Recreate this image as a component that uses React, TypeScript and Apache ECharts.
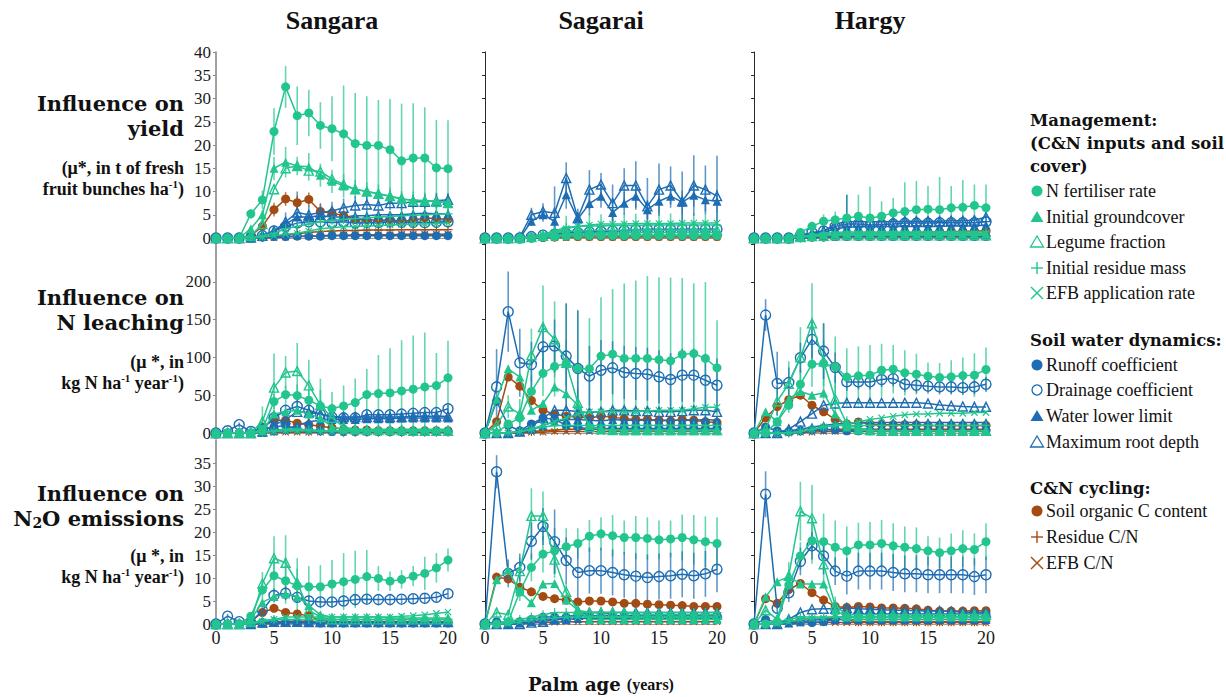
import React, { useEffect, useRef } from "react";
import * as echarts from "echarts";

// ---------- categories ----------
const years = [0, 1, 2, 3, 4, 5, 6, 7, 8, 9, 10, 11, 12, 13, 14, 15, 16, 17, 18, 19, 20];
const sites = ["Sangara", "Sagarai", "Hargy"];
const factorNames = [
  "N fertiliser rate", "Initial groundcover", "Legume fraction", "Initial residue mass", "EFB application rate",
  "Runoff coefficient", "Drainage coefficient", "Water lower limit", "Maximum root depth",
  "Soil organic C content", "Residue C/N", "EFB C/N",
];
const yieldTicks = [0, 40, 5];
const leachTicks = [0, 250, 50];
const n2oTicks = [0, 40, 5];

// ---------- series values (μ*), one row per factor, in factorNames order ----------
const sangaraYield = [
  [0, 0, 0, 5.2, 8.2, 22.9, 32.5, 26.3, 26.9, 24.2, 23.5, 22.4, 20.3, 19.9, 19.9, 19.0, 16.6, 17.2, 17.2, 15.1, 14.9],
  [0, 0, 0, 2, 5, 15, 16.3, 15.5, 15.3, 13.5, 12.2, 11.2, 10.5, 10, 9.5, 9, 8.3, 8.2, 8, 8, 7.6],
  [0, 0, 0, 0.5, 3, 10.5, 15, 15.5, 14.5, 14.3, 12.7, 11.5, 10.5, 10, 9.5, 9, 8.5, 8, 8, 7.8, 7.5],
  [0, 0, 0, 0, 0.5, 1, 2, 2.5, 3, 3.5, 3.8, 4, 4.2, 4.3, 4.5, 4.6, 4.8, 4.9, 5, 5.1, 5.2],
  [0, 0, 0, 0, 0.2, 0.5, 0.8, 1, 1.5, 2, 2.2, 2.4, 2.5, 2.6, 2.7, 2.8, 2.9, 3, 3, 3.1, 3.2],
  [0, 0, 0, 0, 0.2, 0.3, 0.3, 0.4, 0.4, 0.4, 0.5, 0.5, 0.5, 0.5, 0.5, 0.5, 0.5, 0.5, 0.5, 0.5, 0.5],
  [0, 0, 0, 0.2, 0.5, 1.5, 2.5, 3.2, 3.5, 3.5, 3.3, 3.5, 3.2, 3.3, 3.3, 3.5, 3.4, 3.4, 3.3, 3.4, 3.5],
  [0, 0, 0, 0.1, 0.3, 1.5, 3, 4.5, 4.5, 4.8, 4.5, 4.5, 4.8, 4.8, 5, 5, 5, 5.2, 5.3, 5.2, 5.2],
  [0, 0, 0, 0.1, 0.5, 1.5, 3.5, 5.5, 5, 5.5, 5.8, 6.5, 7, 7.2, 7, 7.5, 7.5, 7.8, 7.8, 8, 8.2],
  [0, 0, 0, 0.5, 2.5, 6.1, 8.4, 7.6, 8.3, 5.7, 5.4, 4.8, 4, 3.9, 3.8, 3.8, 3.6, 3.8, 4.3, 4.2, 4],
  [0, 0, 0, 0, 0.1, 0.3, 0.6, 0.9, 1.2, 1.4, 1.5, 1.6, 1.6, 1.7, 1.7, 1.7, 1.8, 1.8, 1.8, 1.8, 1.8],
  [0, 0, 0, 0, 0, 0.1, 0.2, 0.3, 0.4, 0.5, 0.6, 0.6, 0.7, 0.7, 0.7, 0.7, 0.8, 0.8, 0.8, 0.8, 0.8],
];
const sagaraiYield = [
  [0, 0, 0, 0, 0, 0.2, 0.3, 0.4, 0.5, 0.5, 0.5, 0.5, 0.5, 0.5, 0.5, 0.5, 0.5, 0.5, 0.5, 0.5, 0.5],
  [0, 0, 0, 0, 0.1, 0.3, 0.5, 0.8, 1, 1, 1.1, 1.1, 1.1, 1.2, 1.2, 1.2, 1.2, 1.2, 1.2, 1.2, 1.2],
  [0, 0, 0, 0, 0.2, 0.5, 1, 1.5, 1.5, 1.6, 1.6, 1.6, 1.7, 1.7, 1.7, 1.7, 1.7, 1.7, 1.7, 1.7, 1.7],
  [0, 0, 0, 0, 0.3, 0.8, 1.5, 2.3, 2.5, 2.6, 2.6, 2.7, 2.7, 2.7, 2.8, 2.8, 2.8, 2.8, 2.8, 2.8, 2.8],
  [0, 0, 0, 0, 0.2, 0.6, 1.2, 2, 2.5, 2.8, 3, 3, 3, 3.1, 3.1, 3.1, 3.1, 3.2, 3.2, 3.2, 3.2],
  [0, 0, 0, 0, 0.1, 0.2, 0.3, 0.5, 0.6, 0.6, 0.6, 0.6, 0.6, 0.6, 0.6, 0.6, 0.6, 0.6, 0.6, 0.6, 0.6],
  [0, 0, 0, 0, 0.3, 0.6, 0.8, 1, 1.2, 1.3, 1.4, 1.5, 1.6, 1.8, 1.9, 1.9, 1.9, 1.9, 1.9, 1.9, 1.9],
  [0, 0, 0, 0, 3.6, 5, 3.6, 9.3, 4.1, 7.4, 9, 5.5, 7.5, 9, 6.1, 7.9, 9, 7.7, 9.2, 8.2, 7.9],
  [0, 0, 0, 0.2, 5, 5.7, 5.4, 12.9, 4.3, 10.4, 11.5, 7.5, 11.3, 11.3, 6.8, 10.4, 11.3, 7.9, 11.3, 10.4, 9],
  [0, 0, 0, 0, 0, 0.1, 0.2, 0.3, 0.3, 0.3, 0.3, 0.3, 0.3, 0.3, 0.3, 0.3, 0.3, 0.3, 0.3, 0.3, 0.3],
  [0, 0, 0, 0, 0, 0.1, 0.2, 0.3, 0.4, 0.5, 0.5, 0.5, 0.5, 0.5, 0.5, 0.5, 0.5, 0.5, 0.5, 0.5, 0.5],
  [0, 0, 0, 0, 0, 0, 0.1, 0.1, 0.2, 0.2, 0.2, 0.2, 0.2, 0.2, 0.2, 0.2, 0.2, 0.2, 0.2, 0.2, 0.2],
];
const hargyYield = [
  [0, 0, 0, 0, 1.2, 2.5, 3.6, 3.9, 4.3, 4.7, 4.3, 4.7, 5.4, 5.7, 6.1, 6.2, 6.1, 6.5, 6.6, 7, 6.5],
  [0, 0, 0, 0, 0.3, 0.5, 0.7, 0.8, 0.8, 0.8, 0.8, 0.8, 0.8, 0.8, 0.8, 0.8, 0.8, 0.8, 0.8, 0.8, 0.8],
  [0, 0, 0, 0, 0.2, 0.4, 0.5, 0.6, 0.6, 0.6, 0.6, 0.6, 0.6, 0.6, 0.6, 0.6, 0.6, 0.6, 0.6, 0.6, 0.6],
  [0, 0, 0, 0, 0.3, 0.6, 1, 1.2, 1.3, 1.3, 1.3, 1.3, 1.3, 1.3, 1.3, 1.3, 1.3, 1.3, 1.3, 1.3, 1.3],
  [0, 0, 0, 0, 0.2, 0.4, 0.6, 0.8, 0.9, 1, 1, 1, 1, 1, 1, 1, 1, 1, 1, 1, 1],
  [0, 0, 0, 0, 0.1, 0.2, 0.2, 0.3, 0.3, 0.3, 0.3, 0.3, 0.3, 0.3, 0.3, 0.3, 0.3, 0.3, 0.3, 0.3, 0.3],
  [0, 0, 0, 0, 0.5, 1.2, 1.5, 2.5, 3, 3, 2.8, 2.9, 3, 3.2, 3.2, 3.2, 3.3, 3.3, 3.3, 3.3, 3.5],
  [0, 0, 0, 0, 0.3, 0.8, 1.2, 2, 2.3, 2.4, 2.4, 2.4, 2.5, 2.5, 2.5, 2.5, 2.5, 2.6, 2.6, 2.6, 2.8],
  [0, 0, 0, 0, 0.4, 1, 1.5, 3, 3.5, 3.5, 3.5, 3.5, 3.5, 3.6, 3.6, 3.6, 3.6, 3.7, 3.7, 3.8, 4.5],
  [0, 0, 0, 0, 0.1, 0.3, 0.5, 0.8, 0.9, 1, 1, 1, 1, 1.1, 1.2, 1.3, 1.3, 1.4, 1.4, 1.5, 1.5],
  [0, 0, 0, 0, 0, 0.1, 0.2, 0.3, 0.4, 0.5, 0.5, 0.5, 0.5, 0.5, 0.5, 0.5, 0.5, 0.5, 0.5, 0.5, 0.5],
  [0, 0, 0, 0, 0, 0, 0.1, 0.1, 0.2, 0.2, 0.2, 0.2, 0.2, 0.2, 0.2, 0.2, 0.2, 0.2, 0.2, 0.2, 0.2],
];
const sangaraLeach = [
  [0, 0, 0, 0, 5, 41.6, 50.8, 49.5, 43.3, 35.8, 32.3, 35.8, 40.2, 50.8, 52.2, 53, 55.7, 57.9, 61, 62.8, 73],
  [0, 0, 0, 0, 3, 25, 28, 30, 25, 20, 8, 5, 5, 5, 5, 5, 5, 5, 5, 5, 5],
  [0, 0, 0, 0, 15, 60, 80, 82, 63, 37, 20, 8, 5, 4, 4, 4, 4, 3, 3, 3, 3],
  [0, 0, 0, 0, 1, 3, 5, 5, 4, 3, 3, 3, 3, 3, 3, 3, 3, 3, 3, 3, 3],
  [0, 0, 0, 0, 1, 2, 3, 3, 3, 2, 2, 2, 2, 2, 2, 2, 2, 2, 2, 2, 2],
  [0, 0, 0, 0, 5, 8, 10, 5, 4, 3, 2, 2, 2, 2, 2, 2, 2, 2, 2, 2, 2],
  [0, 3, 11, 2, 5, 20, 30, 35, 30, 25, 21, 20, 20, 24, 24, 24, 25, 26, 27, 27, 32],
  [0, 0, 0, 0, 1, 3, 5, 10, 15, 17, 18, 18, 18, 19, 19, 19, 20, 20, 20, 20, 20],
  [0, 0, 0, 0, 2, 10, 18, 28, 27, 25, 22, 21, 21, 21, 21, 21, 21, 22, 22, 22, 22],
  [0, 0, 0, 0, 8, 17, 17, 13, 11, 9, 7, 5, 4, 4, 3, 3, 3, 3, 3, 3, 3],
  [0, 0, 0, 0, 1, 2, 3, 3, 2, 2, 2, 1, 1, 1, 1, 1, 1, 1, 1, 1, 1],
  [0, 0, 0, 0, 0, 1, 1, 1, 1, 1, 1, 1, 1, 1, 1, 1, 1, 1, 1, 1, 1],
];
const sagaraiLeach = [
  [0, 0, 12, 20, 55, 79, 88, 92, 85, 85, 101.7, 104.3, 98.6, 98.6, 98.6, 97, 95.5, 104, 105, 98.6, 86.2],
  [0, 45, 85, 74, 30, 39, 61, 52, 37, 10, 5, 4, 3, 3, 3, 3, 3, 3, 3, 3, 3],
  [0, 10, 35, 25, 103, 140, 124, 93, 40, 8, 5, 4, 4, 4, 4, 4, 4, 4, 4, 4, 4],
  [0, 0, 0, 2, 5, 8, 10, 10, 10, 10, 10, 10, 10, 10, 10, 10, 10, 10, 10, 10, 10],
  [0, 0, 0, 2, 5, 10, 15, 20, 25, 28, 28, 28, 28, 28, 29, 30, 30, 30, 32, 34, 34],
  [0, 42, 10, 3, 12, 20, 18, 10, 8, 5, 6, 6, 6, 6, 6, 6, 6, 6, 6, 6, 6],
  [0, 61, 160.5, 92.8, 90.6, 114, 115, 101.7, 85.3, 75.2, 83, 86.2, 80, 78.7, 77.8, 74.3, 70.7, 76.5, 76.5, 69.8, 63.2],
  [0, 0, 0, 2, 5, 10, 15, 18, 18, 17, 16, 18, 17, 17, 17, 17, 17, 17, 17, 18, 17],
  [0, 0, 0, 2, 8, 20, 30, 30, 28, 27, 28, 30, 30, 29, 29, 28, 28, 29, 30, 30, 28],
  [0, 15, 74, 62, 43, 30, 25, 22, 21, 20, 22, 21, 19, 18, 18, 17, 16, 18, 17, 15, 14],
  [0, 0, 0, 1, 2, 3, 4, 5, 5, 5, 5, 5, 5, 5, 5, 5, 5, 5, 5, 5, 5],
  [0, 0, 0, 0, 1, 1, 2, 2, 2, 2, 2, 2, 2, 2, 2, 2, 2, 2, 2, 2, 2],
];
const hargyLeach = [
  [0, 0, 15, 36.7, 64.5, 91, 92, 87.5, 74, 75.6, 76.5, 83, 84.4, 79.6, 77.8, 75.2, 73.4, 74.3, 76, 76.5, 84],
  [0, 28, 15, 45, 55, 50, 53, 25, 8, 4, 3, 3, 3, 3, 3, 3, 3, 3, 3, 3, 3],
  [0, 5, 42, 65, 100, 145, 95, 45, 12, 6, 4, 3, 3, 3, 3, 3, 3, 3, 3, 3, 3],
  [0, 0, 0, 0, 2, 5, 8, 10, 10, 10, 10, 10, 10, 10, 10, 10, 10, 10, 10, 10, 10],
  [0, 0, 0, 0, 2, 5, 8, 10, 12, 15, 18, 20, 22, 24, 25, 25, 26, 26, 26, 27, 27],
  [0, 8, 3, 2, 3, 4, 5, 4, 3, 3, 3, 3, 3, 3, 3, 3, 3, 3, 3, 3, 3],
  [0, 156, 65.4, 66.8, 99.5, 123.8, 108.3, 86.6, 67.6, 67.6, 67.6, 70.7, 72, 64.5, 63.2, 62, 61, 61, 60, 61, 64.5],
  [0, 0, 1, 3, 5, 8, 10, 12, 13, 14, 14, 14, 14, 14, 14, 14, 14, 14, 14, 14, 14],
  [0, 0, 0, 5, 15, 25.6, 36.7, 39, 40, 40, 40, 40, 40, 40, 40, 39, 37, 36, 35, 34.5, 34.5],
  [0, 20, 35, 44, 50, 36.7, 28, 18, 12, 14.6, 12, 11, 11, 11, 11, 10, 10, 10, 10, 10, 10],
  [0, 0, 0, 1, 2, 3, 4, 5, 5, 5, 5, 5, 5, 5, 5, 5, 5, 5, 5, 5, 5],
  [0, 0, 0, 0, 1, 1, 2, 2, 2, 2, 2, 2, 2, 2, 2, 2, 2, 2, 2, 2, 2],
];
const sangaraN2O = [
  [0, 0, 0, 1.7, 7.4, 10.5, 9.4, 8.3, 8.1, 8.1, 8.7, 9.2, 9.7, 10.3, 9.9, 9.3, 9.7, 10.4, 11, 12.2, 13.9],
  [0, 0, 0, 1, 4.7, 6, 6.5, 6, 4, 2, 1.5, 1.5, 1.5, 1.5, 1.5, 1.3, 1.3, 1.3, 1.3, 1.3, 1.3],
  [0, 0, 0, 0.5, 8.8, 14.3, 13.3, 9, 3, 1.5, 1, 1, 1, 1, 1, 1, 1, 1, 1, 1, 1],
  [0, 0, 0, 0.2, 0.8, 1, 1, 1, 1, 1, 1, 1, 1, 1, 1, 1, 1, 1, 1, 1, 1],
  [0, 0, 0, 0, 0.5, 1, 1.5, 1.5, 1.5, 1.5, 1.5, 1.5, 1.5, 1.5, 1.5, 1.5, 1.7, 1.8, 2, 2.3, 2.6],
  [0, 0, 0, 0, 0.3, 0.3, 0.3, 0.3, 0.3, 0.2, 0.2, 0.2, 0.2, 0.2, 0.2, 0.2, 0.2, 0.2, 0.2, 0.2, 0.2],
  [0, 1.7, 0.5, 0.3, 3, 6.2, 6.7, 5.8, 5, 4.8, 4.8, 5, 5.3, 5.4, 5.3, 5.3, 5.4, 5.5, 5.6, 5.8, 6.6],
  [0, 0, 0, 0, 0.2, 0.3, 0.3, 0.3, 0.3, 0.3, 0.3, 0.3, 0.3, 0.3, 0.3, 0.3, 0.3, 0.3, 0.3, 0.3, 0.3],
  [0, 0, 0, 0, 0.3, 0.5, 0.5, 0.5, 0.4, 0.4, 0.4, 0.4, 0.4, 0.4, 0.4, 0.4, 0.4, 0.4, 0.4, 0.4, 0.4],
  [0, 0, 0, 0.5, 2.5, 3.4, 2.5, 2.2, 1.8, 0.8, 0.5, 0.5, 0.5, 0.5, 0.5, 0.5, 0.5, 0.5, 0.5, 0.5, 0.5],
  [0, 0, 0, 0, 0.2, 0.5, 0.6, 0.6, 0.6, 0.5, 0.4, 0.4, 0.4, 0.4, 0.4, 0.4, 0.4, 0.4, 0.4, 0.4, 0.4],
  [0, 0, 0, 0, 0, 0.1, 0.2, 0.2, 0.2, 0.2, 0.2, 0.2, 0.2, 0.2, 0.2, 0.2, 0.2, 0.2, 0.2, 0.2, 0.2],
];
const sagaraiN2O = [
  [0, 0, 0.5, 7, 12.3, 15.2, 15.9, 16.8, 17.5, 19.1, 19.6, 19.2, 18.8, 18.8, 18.6, 18.3, 18.5, 18.8, 18.3, 17.9, 17.5],
  [0, 9.6, 11.7, 7, 4.6, 8.7, 8.8, 5.2, 3, 1, 1, 1, 1, 1, 1, 1, 1, 1, 1, 1, 1],
  [0, 2.5, 2, 11.5, 23.5, 23.5, 14, 7, 3, 2.5, 2.5, 2.5, 2.5, 2, 2, 2, 2, 2, 2, 2, 2],
  [0, 0, 0.5, 1, 1.5, 2, 2.5, 2.5, 2.5, 2.5, 2.5, 2.5, 2.5, 2.5, 2.5, 2.5, 2.5, 2.5, 2.5, 2.5, 2.5],
  [0, 0, 0, 0.5, 1, 1.2, 1.3, 1.5, 1.5, 1.5, 1.5, 1.5, 1.5, 1.5, 1.5, 1.5, 1.5, 1.5, 1.5, 1.5, 1.5],
  [0, 0.5, 0.3, 0.5, 1, 1.5, 1.5, 1.5, 1.8, 1.8, 1.8, 1.8, 1.8, 1.8, 1.8, 1.8, 1.8, 1.8, 1.8, 1.8, 1.8],
  [0, 33.1, 11, 12.3, 18, 21.2, 17.9, 13.8, 11.2, 11.6, 11.6, 11.2, 10.7, 10.4, 10.1, 10.3, 10.5, 10.8, 10.5, 10.9, 11.9],
  [0, 0, 0, 0.2, 0.5, 0.8, 1, 1, 1.2, 1.2, 1.2, 1.2, 1.2, 1.2, 1.2, 1.2, 1.2, 1.2, 1.2, 1.2, 1.2],
  [0, 0, 0, 0, 0.3, 0.5, 1, 1.5, 2, 2.5, 2.5, 2.5, 2.5, 2.5, 2.5, 2.5, 2.5, 2.5, 2.5, 2.5, 2.5],
  [0, 10.2, 9.8, 8, 7, 6, 5.5, 5.2, 4.8, 5, 5, 4.8, 4.5, 4.5, 4.3, 4.2, 4.1, 4, 3.8, 3.8, 3.8],
  [0, 0, 0, 0.5, 1, 1.2, 1.2, 1.3, 2, 2.5, 2.5, 2, 1.5, 1.2, 1.2, 1.2, 1.2, 1.2, 1.2, 1.2, 1.2],
  [0, 0, 0, 0, 0.2, 0.3, 0.4, 0.5, 0.5, 0.5, 0.5, 0.5, 0.5, 0.5, 0.5, 0.5, 0.5, 0.5, 0.5, 0.5, 0.5],
];
const hargyN2O = [
  [0, 0, 0.5, 8.5, 14.8, 18.1, 17.9, 16.7, 15.9, 17.2, 17.2, 17.5, 17, 16.7, 16.4, 15.9, 15.5, 15.9, 16.4, 16.2, 17.9],
  [0, 5.9, 9.2, 10.3, 8.7, 8.7, 8.7, 3, 1.5, 1.5, 1.5, 1.5, 1.5, 1.5, 1.5, 1.5, 1.5, 1.5, 1.5, 1.5, 1.5],
  [0, 3, 1, 10.5, 24.5, 23, 13, 4, 2, 2, 2, 2, 2, 2, 2, 2, 2, 2, 2, 2, 2],
  [0, 0, 0.5, 1, 1.5, 1.5, 1.5, 1.5, 1.5, 1.5, 1.5, 1.5, 1.5, 1.5, 1.5, 1.5, 1.5, 1.5, 1.5, 1.5, 1.5],
  [0, 0, 0, 0.5, 1, 1.2, 1.3, 1.5, 1.5, 1.5, 1.5, 1.5, 1.5, 1.5, 1.5, 1.5, 1.5, 1.5, 1.5, 1.5, 1.5],
  [0, 1, 0.3, 0.3, 0.5, 0.3, 0.5, 1, 2, 2.2, 2.2, 2.2, 2.2, 2.2, 2.2, 2.2, 2.2, 2.2, 2.2, 2.2, 2.2],
  [0, 28.2, 3.4, 6.8, 13.6, 17, 14.8, 11.5, 10.4, 11.5, 11.5, 11.5, 11.2, 10.9, 10.9, 10.7, 10.7, 10.7, 10.7, 10.3, 10.7],
  [0, 0, 0, 0.2, 0.5, 0.8, 1, 1, 1, 1, 1, 1, 1, 1, 1, 1, 1, 1, 1, 1, 1],
  [0, 0, 0, 1, 2.5, 3.2, 3.3, 3.3, 3.5, 3.3, 3.2, 3.1, 3, 3, 2.9, 2.8, 2.8, 2.7, 2.6, 2.5, 2.5],
  [0, 5.5, 4.5, 7.5, 8.8, 6.8, 5.2, 3.8, 3.6, 3.8, 3.7, 3.5, 3.5, 3.4, 3.3, 3, 2.8, 2.8, 2.8, 2.9, 2.9],
  [0, 0, 0.2, 0.5, 1, 1.2, 1.2, 1.2, 0.8, 0.5, 0.5, 0.5, 0.5, 0.5, 0.5, 0.5, 0.5, 0.5, 0.5, 0.5, 0.5],
  [0, 0, 0, 0, 0.2, 0.3, 0.3, 0.3, 0.3, 0.3, 0.3, 0.3, 0.3, 0.3, 0.3, 0.3, 0.3, 0.3, 0.3, 0.3, 0.3],
];

// ---------- error bar half-widths: [factor index, values] ----------
const sangaraYieldErr: [number, number[]][] = [
  [0, [0, 0, 0, 1, 2, 5, 4.5, 6.3, 5, 5, 7, 10.4, 10.9, 10.6, 9.8, 10.9, 12.3, 11.8, 10.9, 10.3, 10.4]],
  [1, [0, 0, 0, 0.5, 1, 2.5, 3.3, 2, 3, 2.5, 2.5, 2.5, 2, 2, 2, 1.8, 1.8, 1.8, 1.8, 1.8, 1.8]],
  [8, [0, 0, 0, 0, 0.5, 1, 2, 4.5, 2, 2, 2, 2, 2, 2, 1.5, 1.5, 1.5, 1.5, 1.5, 1.5, 1.5]],
  [9, [0, 0, 0, 0.3, 1, 1.5, 1.5, 1.5, 1.5, 1.5, 1, 1, 1, 1, 1, 1, 1, 1, 1, 1, 1]],
];
const sagaraiYieldErr: [number, number[]][] = [
  [3, [0, 0, 0, 0, 0.5, 1, 1.5, 2.5, 2.5, 2.5, 2.5, 2.5, 2.5, 2.5, 2.5, 2.5, 2.5, 2.5, 2.5, 2.5, 2.5]],
  [7, [0, 0, 0, 0, 1, 1.5, 2, 3, 1.5, 2.5, 2.5, 2, 2.5, 2.5, 2, 2.5, 2.5, 2.5, 2.5, 2.5, 2.5]],
  [8, [0, 0, 0, 0, 1.5, 1.8, 5.7, 3.4, 2, 4.2, 2.5, 4, 3.7, 5.2, 6.1, 5.6, 4.1, 6.4, 6.5, 5.2, 8.7]],
];
const hargyYieldErr: [number, number[]][] = [
  [0, [0, 0, 0, 0, 0.5, 1, 1.5, 1.8, 5, 4.6, 6.8, 3.2, 3.2, 6.3, 6.2, 5, 7, 4.7, 5.9, 4.5, 5]],
  [6, [0, 0, 0, 0, 0.3, 0.5, 1, 1.5, 6.3, 1.5, 1.5, 1.5, 1.5, 1.5, 1.5, 1.5, 1.5, 1.5, 1.5, 1.5, 1.5]],
];
const sangaraLeachErr: [number, number[]][] = [
  [0, [0, 0, 0, 0, 2, 10, 12, 15, 15, 36, 22, 27, 32, 34, 51, 59, 67, 71, 72, 43, 49]],
  [2, [0, 0, 0, 0, 20, 45, 22, 37, 34, 20, 10, 5, 2, 2, 2, 2, 2, 2, 2, 2, 2]],
  [6, [0, 1, 3, 1, 2, 5, 8, 10, 8, 6, 6, 5, 5, 5, 5, 5, 5, 5, 5, 5, 5]],
];
const sagaraiLeachErr: [number, number[]][] = [
  [0, [0, 0, 5, 10, 20, 30, 40, 79, 77, 67, 78, 86, 99, 103, 109, 109, 110, 101, 93, 101, 63]],
  [2, [0, 5, 15, 20, 35, 55, 50, 30, 20, 5, 3, 2, 2, 2, 2, 2, 2, 2, 2, 2, 2]],
  [6, [0, 50, 53, 45, 30, 30, 35, 70, 77, 40, 40, 35, 35, 35, 35, 35, 35, 35, 35, 35, 35]],
];
const hargyLeachErr: [number, number[]][] = [
  [0, [0, 0, 5, 10, 20, 30, 30, 40, 38, 39, 40, 35, 32, 30, 27, 18, 19, 22, 24, 29, 29]],
  [2, [0, 5, 20, 30, 40, 53, 50, 30, 10, 3, 2, 2, 2, 2, 2, 2, 2, 2, 2, 2, 2]],
  [6, [0, 21, 42, 20, 20, 25, 37, 20, 12, 10, 10, 10, 10, 10, 10, 10, 10, 10, 10, 10, 10]],
];
const sangaraN2OErr: [number, number[]][] = [
  [0, [0, 0, 0, 0.5, 2, 4, 5, 6, 4.5, 4.7, 5.2, 6.2, 6.2, 5.8, 2.7, 2.1, 2, 2.2, 3.6, 3.2, 2.5]],
  [2, [0, 0, 0, 0.3, 2.5, 4.8, 6, 3, 1.5, 0.5, 0.3, 0.3, 0.3, 0.3, 0.3, 0.3, 0.3, 0.3, 0.3, 0.3, 0.3]],
  [6, [0, 0.5, 0.3, 0.2, 1, 1.5, 1.5, 1.2, 1, 1, 1, 1, 1, 1, 1, 1, 1, 1, 1, 1, 1]],
];
const sagaraiN2OErr: [number, number[]][] = [
  [0, [0, 0, 0.5, 2, 3, 4, 5, 4, 3.3, 3.5, 3.6, 4.5, 3.7, 4.7, 4.6, 4.2, 4, 5, 5.4, 5.5, 5.7]],
  [2, [0, 1, 1, 3, 6, 5.3, 4, 2, 1, 0.5, 0.5, 0.5, 0.5, 0.5, 0.5, 0.5, 0.5, 0.5, 0.5, 0.5, 0.5]],
  [6, [0, 3.6, 3, 3, 4, 4, 7, 5, 6, 5, 5, 5, 5, 5, 5, 5, 5, 5, 5, 5, 5]],
];
const hargyN2OErr: [number, number[]][] = [
  [0, [0, 0, 0.5, 2, 3, 5, 6.1, 5.8, 5.3, 4.8, 5, 5.1, 4.9, 4.5, 4.6, 3.2, 3.3, 3.8, 4, 3.5, 4]],
  [2, [0, 1, 0.5, 3, 6.4, 7.2, 4, 2, 1, 0.5, 0.5, 0.5, 0.5, 0.5, 0.5, 0.5, 0.5, 0.5, 0.5, 0.5, 0.5]],
  [6, [0, 5, 1, 2, 3, 3, 4, 3, 4, 4, 4, 4, 4, 4, 4, 4, 4, 4, 4, 4, 4]],
];

// ---------- styles ----------
const GREEN = "#22C58E";
const BLUE = "#1E6DB3";
const BROWN = "#A34B12";
const PLUS = "path://M4.35,0H5.65V4.35H10V5.65H5.65V10H4.35V5.65H0V4.35H4.35Z";

type Def = { color: string; shape: "circle" | "triangle" | "plus" | "cross"; hollow?: boolean };
const defs: Def[] = [
  { color: GREEN, shape: "circle" },
  { color: GREEN, shape: "triangle" },
  { color: GREEN, shape: "triangle", hollow: true },
  { color: GREEN, shape: "plus" },
  { color: GREEN, shape: "cross" },
  { color: BLUE, shape: "circle" },
  { color: BLUE, shape: "circle", hollow: true },
  { color: BLUE, shape: "triangle" },
  { color: BLUE, shape: "triangle", hollow: true },
  { color: BROWN, shape: "circle" },
  { color: BROWN, shape: "plus" },
  { color: BROWN, shape: "cross" },
];

const panels = [
  { data: sangaraYield, err: sangaraYieldErr },
  { data: sagaraiYield, err: sagaraiYieldErr },
  { data: hargyYield, err: hargyYieldErr },
  { data: sangaraLeach, err: sangaraLeachErr },
  { data: sagaraiLeach, err: sagaraiLeachErr },
  { data: hargyLeach, err: hargyLeachErr },
  { data: sangaraN2O, err: sangaraN2OErr },
  { data: sagaraiN2O, err: sagaraiN2OErr },
  { data: hargyN2O, err: hargyN2OErr },
];

const colLeft = [216, 485, 754];
const colW = 232;
const rowBox = [
  { top: 52, height: 186, ticks: yieldTicks, showMax: true },
  { top: 244, height: 189, ticks: leachTicks, showMax: false },
  { top: 440, height: 184, ticks: n2oTicks, showMax: false },
];

const SERIF = "Liberation Serif";
const WIDE = "DejaVu Serif";

function buildOption() {
  const grid: any[] = [];
  const xAxis: any[] = [];
  const yAxis: any[] = [];
  const series: any[] = [];

  panels.forEach((p, pi) => {
    const r = Math.floor(pi / 3);
    const c = pi % 3;
    const rb = rowBox[r];
    grid.push({ left: colLeft[c], top: rb.top, width: colW, height: rb.height, containLabel: false });
    xAxis.push({
      type: "value", gridIndex: pi, min: 0, max: 20, interval: 5,
      axisLine: { show: true, lineStyle: { color: "#9a9a9a", width: 1 } },
      axisTick: { show: false },
      splitLine: { show: false },
      axisLabel: { show: r === 2, fontFamily: SERIF, fontSize: 18, color: "#1a1a1a", margin: 5 },
    });
    yAxis.push({
      type: "value", gridIndex: pi, min: rb.ticks[0], max: rb.ticks[1], interval: rb.ticks[2],
      axisLine: { show: true, lineStyle: { color: c === 0 ? "#8a8a8a" : "#2a2a2a", width: c === 0 ? 1.6 : 1 } },
      axisTick: { show: true, length: 3, lineStyle: { color: c === 0 ? "#8a8a8a" : "#2a2a2a" } },
      splitLine: { show: false },
      axisLabel: {
        show: c === 0, showMaxLabel: rb.showMax, fontFamily: SERIF, fontSize: 17, color: "#1a1a1a", margin: 5,
      },
    });

    p.err.forEach(([si, e]) => {
      const col = defs[si].color;
      series.push({
        type: "custom", xAxisIndex: pi, yAxisIndex: pi, z: 1, silent: true, clip: false,
        encode: { x: 0, y: [1, 2] },
        data: years.map((x, i) => [x, Math.max(0, p.data[si][i] - e[i]), p.data[si][i] + e[i]]),
        renderItem: (params: any, api: any) => {
          const x = api.value(0);
          const a = api.coord([x, api.value(1)]);
          const b = api.coord([x, api.value(2)]);
          return {
            type: "line",
            shape: { x1: a[0], y1: a[1], x2: b[0], y2: b[1] },
            style: { stroke: col, lineWidth: 1.6, opacity: 0.7 },
          };
        },
      });
    });

    for (let si = defs.length - 1; si >= 0; si--) {
      const d = defs[si];
      const symbol = d.shape === "circle" ? "circle" : d.shape === "triangle" ? "triangle" : PLUS;
      series.push({
        type: "line", name: factorNames[si], xAxisIndex: pi, yAxisIndex: pi, z: 2 + (11 - si) * 0.01,
        silent: true, clip: false,
        data: years.map((x, i) => [x, p.data[si][i]]),
        symbol,
        symbolSize: d.shape === "circle" ? (d.hollow ? 10 : 9) : 9,
        symbolRotate: d.shape === "cross" ? 45 : 0,
        showAllSymbol: true,
        lineStyle: { color: d.color, width: 1.5 },
        itemStyle: d.hollow
          ? { color: "rgba(255,255,255,0)", borderColor: d.color, borderWidth: 1.4 }
          : { color: d.color, borderWidth: 0 },
      });
    }
  });

  // ---------- text & legend graphics ----------
  const g: any[] = [];
  const txt = (x: number, y: number, text: string, font: string, align = "left", rich?: any) => {
    g.push({
      type: "text", x, y, silent: true,
      style: { text, font, fill: "#111", align, verticalAlign: "middle", rich },
    });
  };
  const titleFont = `bold 26px "${SERIF}"`;
  sites.forEach((s, i) => txt(colLeft[i] + colW / 2, 20, s, titleFont, "center"));

  const bigFont = `bold 21px "${WIDE}"`;
  const subRich = {
    t: { fontFamily: SERIF, fontWeight: "bold", fontSize: 18, fill: "#111", lineHeight: 22 },
    s: { fontFamily: SERIF, fontWeight: "bold", fontSize: 11, fill: "#111", lineHeight: 12, verticalAlign: "top" },
    b: { fontFamily: WIDE, fontWeight: "bold", fontSize: 21, fill: "#111", lineHeight: 24 },
    bs: { fontFamily: WIDE, fontWeight: "bold", fontSize: 14, fill: "#111", lineHeight: 14, verticalAlign: "bottom" },
  };
  const RX = 184;
  txt(RX, 103, "Influence on", bigFont, "right");
  txt(RX, 128, "yield", bigFont, "right");
  txt(RX, 168, "{t|(μ*, in t of fresh}", "", "right", subRich);
  txt(RX, 189, "{t|fruit bunches ha}{s|-1}{t|)}", "", "right", subRich);
  txt(RX, 297, "Influence on", bigFont, "right");
  txt(RX, 322, "N leaching", bigFont, "right");
  txt(RX, 362, "{t|(μ *, in}", "", "right", subRich);
  txt(RX, 383, "{t|kg N ha}{s|-1}{t| year}{s|-1}{t|)}", "", "right", subRich);
  txt(RX, 493, "Influence on", bigFont, "right");
  txt(RX, 518, "{b|N}{bs|2}{b|O emissions}", "", "right", subRich);
  txt(RX, 556, "{t|(μ *, in}", "", "right", subRich);
  txt(RX, 577, "{t|kg N ha}{s|-1}{t| year}{s|-1}{t|)}", "", "right", subRich);

  // bottom axis title
  g.push({
    type: "text", x: 601, y: 684, silent: true,
    style: {
      text: "{a|Palm age }{b|(years)}", align: "center", verticalAlign: "middle",
      rich: {
        a: { fontFamily: WIDE, fontWeight: "bold", fontSize: 18, fill: "#111", lineHeight: 22 },
        b: { fontFamily: SERIF, fontWeight: "bold", fontSize: 16, fill: "#111", lineHeight: 22 },
      },
    },
  });

  // legend
  const LX = 1030;
  const headFont = `bold 16.5px "${WIDE}"`;
  const itemFont = `18px "${SERIF}"`;
  txt(LX, 120, "Management:", headFont);
  txt(LX, 143, "(C&N inputs and soil", headFont);
  txt(LX, 166, "cover)", headFont);
  txt(LX, 340, "Soil water dynamics:", headFont);
  txt(LX, 488, "C&N cycling:", headFont);
  const itemY = [191, 217, 242, 268, 293, 365, 390, 416, 442, 511, 537, 563];
  const MX = 1037;
  defs.forEach((d, i) => {
    const y = itemY[i];
    if (d.shape === "circle") {
      g.push({
        type: "circle", silent: true, shape: { cx: MX, cy: y, r: d.hollow ? 5 : 5.5 },
        style: d.hollow ? { fill: "none", stroke: d.color, lineWidth: 1.3 } : { fill: d.color },
      });
    } else if (d.shape === "triangle") {
      g.push({
        type: "polygon", silent: true,
        shape: { points: [[MX, y - 6], [MX + 6.5, y + 5], [MX - 6.5, y + 5]] },
        style: d.hollow ? { fill: "none", stroke: d.color, lineWidth: 1.3 } : { fill: d.color },
      });
    } else if (d.shape === "plus") {
      g.push({ type: "line", silent: true, shape: { x1: MX - 6, y1: y, x2: MX + 6, y2: y }, style: { stroke: d.color, lineWidth: 1.4 } });
      g.push({ type: "line", silent: true, shape: { x1: MX, y1: y - 6, x2: MX, y2: y + 6 }, style: { stroke: d.color, lineWidth: 1.4 } });
    } else {
      g.push({ type: "line", silent: true, shape: { x1: MX - 6, y1: y - 6, x2: MX + 6, y2: y + 6 }, style: { stroke: d.color, lineWidth: 1.4 } });
      g.push({ type: "line", silent: true, shape: { x1: MX - 6, y1: y + 6, x2: MX + 6, y2: y - 6 }, style: { stroke: d.color, lineWidth: 1.4 } });
    }
    txt(1046, y, factorNames[i], itemFont);
  });

  return {
    animation: false,
    backgroundColor: "#ffffff",
    grid, xAxis, yAxis, series, graphic: g,
  };
}

export default function App() {
  const ref = useRef<HTMLDivElement>(null);
  useEffect(() => {
    if (!ref.current) return;
    const chart = echarts.init(ref.current, undefined, { renderer: "svg" });
    chart.setOption(buildOption() as any);
    return () => chart.dispose();
  }, []);
  return (
    <div
      ref={ref}
      style={{ position: "fixed", left: 0, top: 0, width: 1226, height: 697, background: "#fff" }}
    />
  );
}
